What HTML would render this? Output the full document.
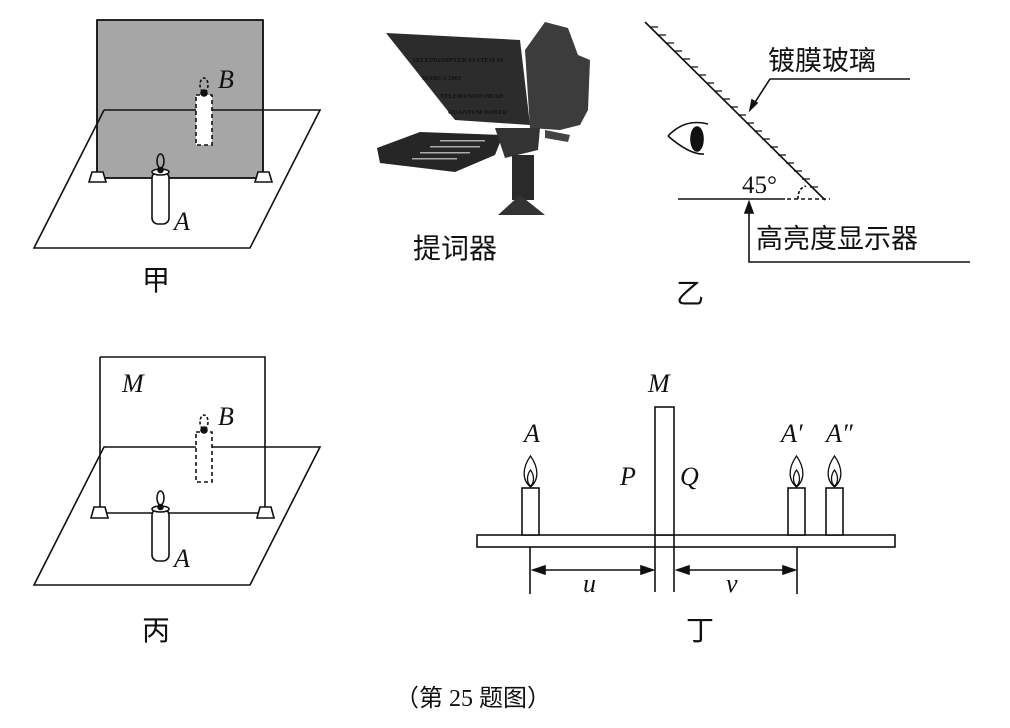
<!DOCTYPE html>
<html><head><meta charset="utf-8"><style>
body{margin:0;background:#fff}
text{font-family:"Liberation Serif","Noto Serif CJK SC",serif;fill:#111}
.cj{font-family:"Liberation Serif","Noto Sans CJK SC",sans-serif}
.it{font-style:italic}
</style></head><body>
<svg width="1010" height="723" viewBox="0 0 1010 723" xmlns="http://www.w3.org/2000/svg" stroke="#111" stroke-width="1.6" fill="none">
<!-- 甲 -->
<path d="M104,110 H320 L250,248 H34 Z" fill="#fff"/>
<rect x="97" y="20" width="166" height="158" fill="#a6a6a6"/>
<path d="M104,110 L97,124"/>
<path d="M97,20 V178 M263,20 V178 M97,20 H263 M104,110 H263 M97,178 H263"/>
<rect x="152" y="172" width="17" height="52" rx="6" fill="#fff"/>
<ellipse cx="160.5" cy="172" rx="8.5" ry="3" fill="#fff"/>
<ellipse cx="160.5" cy="161" rx="3.5" ry="7"/>
<circle cx="160.5" cy="170" r="2.5" fill="#111"/>
<path d="M92,172 H103 L106,182 H89 Z" fill="#fff"/>
<path d="M258,172 H269 L272,182 H255 Z" fill="#fff"/>
<rect x="196" y="95" width="16" height="50" fill="#fff" stroke-dasharray="4,3"/>
<ellipse cx="204" cy="85" rx="4" ry="7" stroke-dasharray="3,2"/>
<circle cx="204" cy="93" r="3" fill="#111"/>
<text x="218" y="88" font-size="26" class="it" stroke="none">B</text>
<text x="174" y="230" font-size="26" class="it" stroke="none">A</text>
<text x="142" y="290" font-size="28" class="cj" stroke="none">甲</text>

<!-- 丙 -->
<path d="M104,447 H320 L250,585 H34 Z" fill="#fff"/>
<path d="M100,357 H265 V509 M100,357 V509 M100,513 H265"/>
<rect x="152" y="509" width="17" height="52" rx="6" fill="#fff"/>
<ellipse cx="160.5" cy="509" rx="8.5" ry="3" fill="#fff"/>
<ellipse cx="160.5" cy="498" rx="3.5" ry="7"/>
<circle cx="160.5" cy="507" r="2.5" fill="#111"/>
<path d="M94,507 H105 L108,518 H91 Z" fill="#fff"/>
<path d="M260,507 H271 L274,518 H257 Z" fill="#fff"/>
<rect x="196" y="432" width="16" height="50" fill="#fff" stroke-dasharray="4,3"/>
<ellipse cx="204" cy="422" rx="4" ry="7" stroke-dasharray="3,2"/>
<circle cx="204" cy="430" r="3" fill="#111"/>
<text x="218" y="425" font-size="26" class="it" stroke="none">B</text>
<text x="174" y="567" font-size="26" class="it" stroke="none">A</text>
<text x="122" y="392" font-size="26" class="it" stroke="none">M</text>
<text x="142" y="640" font-size="28" class="cj" stroke="none">丙</text>

<!-- teleprompter -->
<g stroke="none">
<path d="M545,22 L568,28 L578,55 L590,60 L588,110 L580,125 L560,130 L530,128 L525,50 Z" fill="#3c3c3c"/>
<path d="M386,33 L520,40 L530,125 L455,120 Z" fill="#2c2c2c"/>
<path d="M377,148 L420,132 L503,135 L495,155 L455,172 L380,163 Z" fill="#262626"/>
<path d="M495,128 H540 L538,150 L505,158 Z" fill="#333"/>
<path d="M545,130 L570,135 L568,142 L545,138 Z" fill="#444"/>
<rect x="512" y="155" width="22" height="45" fill="#2a2a2a"/>
<path d="M498,215 L520,195 L545,215 Z" fill="#333"/>
<g font-size="6.5" font-weight="bold"><text x="412" y="62" fill="#ddd">TELEPROMPTER SYSTEM IN</text><text x="422" y="80" fill="#ddd">MARCA 2003</text><text x="440" y="98" fill="#ddd">TELEMUNDO HEAD</text><text x="448" y="114" fill="#ddd">QUANTUM WATER</text></g>
<g fill="#aaa"><rect x="440" y="140" width="45" height="1.5"/><rect x="430" y="146" width="50" height="1.5"/><rect x="420" y="152" width="50" height="1.5"/><rect x="412" y="158" width="45" height="1.5"/></g>
</g>
<text x="413" y="258" font-size="28" class="cj" stroke="none">提词器</text>

<!-- 乙 -->
<path d="M645,22 L825,200"/>
<g stroke-width="1.2">
<path d="M650,27 l8,0 M658,35 l8,0 M666,43 l8,0 M674,51 l8,0 M682,59 l8,0 M690,67 l8,0 M698,75 l8,0 M706,83 l8,0 M714,91 l8,0 M722,99 l8,0 M730,107 l8,0 M738,115 l8,0 M746,123 l8,0 M754,131 l8,0 M762,139 l8,0 M770,147 l8,0 M778,155 l8,0 M786,163 l8,0 M794,171 l8,0 M802,179 l8,0 M810,187 l8,0"/>
</g>
<path d="M910,79 H770 L750,110"/>
<path d="M750,110 l2,-10 l5,3 Z" fill="#111"/>
<text x="768" y="70" font-size="27" class="cj" stroke="none">镀膜玻璃</text>
<path d="M678,199 H785"/>
<path d="M787,199 H830" stroke-dasharray="4,3"/>
<path d="M798,199 Q798,188 806,186" stroke-dasharray="3,2"/>
<text x="742" y="193" font-size="25" stroke="none">45°</text>
<path d="M749,202 V262 H970"/>
<path d="M749,202 l-4,11 h8 Z" fill="#111"/>
<text x="756" y="248" font-size="27" class="cj" stroke="none">高亮度显示器</text>
<path d="M668,136 Q685,118 708,124 M668,136 Q690,155 704,154"/>
<ellipse cx="697" cy="139" rx="6" ry="12" fill="#111"/>
<text x="676" y="303" font-size="28" class="cj" stroke="none">乙</text>

<!-- 丁 -->
<rect x="477" y="535" width="418" height="12" fill="#fff"/>
<rect x="655" y="407" width="19" height="128" fill="#fff"/>
<path d="M655,535 V592 M674,535 V592 M530,547 V594 M797,547 V594"/>
<path d="M536,570 H651 M679,570 H792"/>
<path d="M533,570 l12,-4 v8 Z M653,570 l-12,-4 v8 Z M677,570 l12,-4 v8 Z M795,570 l-12,-4 v8 Z" fill="#111"/>
<g fill="#fff">
<rect x="522" y="488" width="17" height="47"/>
<rect x="788" y="488" width="17" height="47"/>
<rect x="826" y="488" width="17" height="47"/>
</g>
<g stroke-width="1.3">
<path d="M530.5,456 C522,468 522,480 530.5,487 C539,480 539,468 530.5,456 Z M530.5,470 C526,476 527,483 530.5,486 C534,483 535,476 530.5,470Z"/>
<path d="M796.5,456 C788,468 788,480 796.5,487 C805,480 805,468 796.5,456 Z M796.5,470 C792,476 793,483 796.5,486 C800,483 801,476 796.5,470Z"/>
<path d="M834.5,456 C826,468 826,480 834.5,487 C843,480 843,468 834.5,456 Z M834.5,470 C830,476 831,483 834.5,486 C838,483 839,476 834.5,470Z"/>
</g>
<g class="it" font-size="26" stroke="none">
<text x="524" y="442">A</text>
<text x="648" y="392">M</text>
<text x="620" y="485">P</text>
<text x="680" y="485">Q</text>
<text x="781" y="442">A′</text>
<text x="826" y="442">A″</text>
<text x="583" y="592">u</text>
<text x="726" y="592">v</text>
</g>
<text x="686" y="640" font-size="28" class="cj" stroke="none">丁</text>

<text x="395" y="706" font-size="24" class="cj" stroke="none">（第 25 题图）</text>
</svg>
</body></html>
